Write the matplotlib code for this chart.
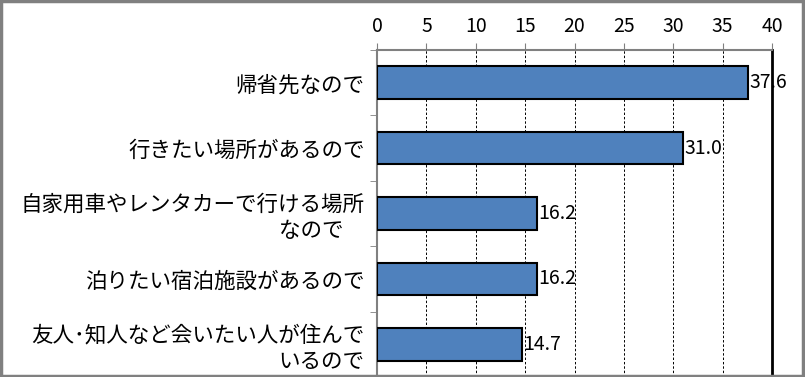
import matplotlib
matplotlib.use("Agg")
import matplotlib.pyplot as plt
from matplotlib.patches import Rectangle

plt.rcParams['font.family'] = ['Noto Sans CJK JP', 'DejaVu Sans']

categories = [
    "帰省先なので",
    "行きたい場所があるので",
    "自家用車やレンタカーで行ける場所\nなので　",
    "泊りたい宿泊施設があるので",
    "友人･知人など会いたい人が住んで\nいるので",
]
values = [37.6, 31.0, 16.2, 16.2, 14.7]
value_labels = ["37.6", "31.0", "16.2", "16.2", "14.7"]
xticks = [0, 5, 10, 15, 20, 25, 30, 35, 40]

fig = plt.figure(figsize=(8.05, 3.77), dpi=100)
ax = fig.add_axes([377/805, 0.0, (772-377)/805, 1 - 50/377])

ypos = list(range(len(categories)))
ax.barh(ypos, values, height=0.5, color="#4F81BD", edgecolor="black", linewidth=1.5, zorder=3)
for y, v, s in zip(ypos, values, value_labels):
    ax.text(v + 0.15, y, s, va="center", ha="left", fontsize=14, zorder=4)

ax.set_xlim(0, 40)
ax.set_ylim(len(categories) - 0.5, -0.5)
ax.set_xticks(xticks)
ax.set_xticklabels([str(t) for t in xticks])
ax.xaxis.tick_top()
ax.tick_params(axis="x", direction="out", length=5, color="#808080", labelsize=14, pad=4)
ax.grid(axis="x", color="black", linestyle=(0, (2.5, 2)), linewidth=0.7, zorder=1)

ax.set_yticks(ypos)
ax.set_yticklabels(categories, fontsize=15.5, ha="right", multialignment="right", linespacing=1.22)
ax.set_yticks([i - 0.5 for i in range(len(categories) + 1)], minor=True)
ax.tick_params(axis="y", which="major", length=0, pad=9)
ax.tick_params(axis="y", which="minor", length=5, color="#808080", direction="out")

for side in ["top", "left"]:
    ax.spines[side].set_color("#808080")
    ax.spines[side].set_linewidth(1.5)
ax.spines["bottom"].set_visible(False)
ax.spines["right"].set_color("black")
ax.spines["right"].set_linewidth(2)

fig.patches.append(Rectangle((0.001, 0.002), 0.997, 0.995, transform=fig.transFigure,
                             fill=False, edgecolor="#808080", linewidth=2.5, zorder=10))

fig.savefig("out.png", dpi=100)
